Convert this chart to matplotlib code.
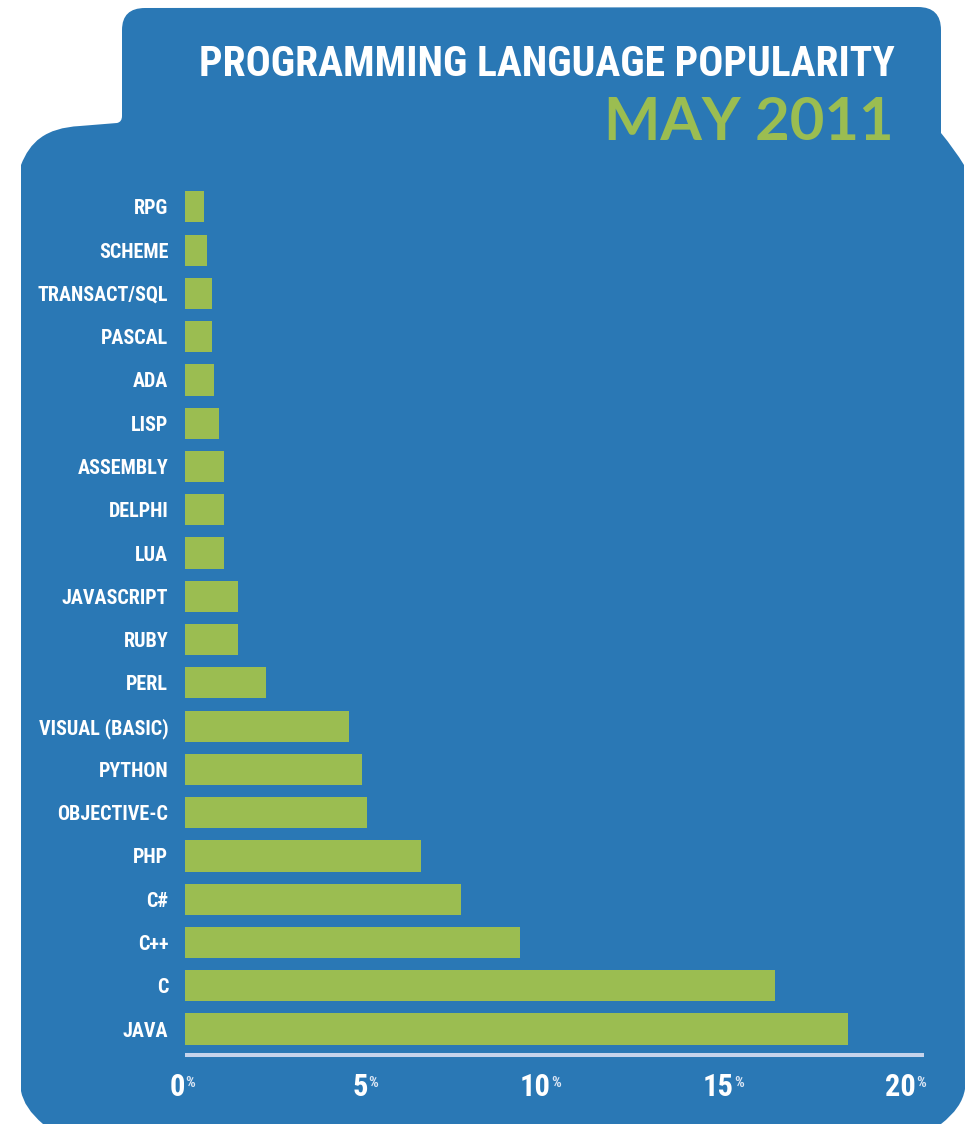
import matplotlib
matplotlib.use("Agg")
import matplotlib.pyplot as plt
import matplotlib.patches as patches
from matplotlib.path import Path
from matplotlib import font_manager as fm
import numpy as np

# data, bottom row first
languages = ["JAVA", "C", "C++", "C#", "PHP", "OBJECTIVE-C", "PYTHON",
             "VISUAL (BASIC)", "PERL", "RUBY", "JAVASCRIPT", "LUA", "DELPHI",
             "ASSEMBLY", "LISP", "ADA", "PASCAL", "TRANSACT/SQL", "SCHEME", "RPG"]
share = [18.14, 16.14, 9.17, 7.55, 6.46, 4.98, 4.84,
         4.49, 2.22, 1.45, 1.45, 1.07, 1.07,
         1.07, 0.93, 0.79, 0.74, 0.74, 0.60, 0.52]
ticks = [0, 5, 10, 15, 20]
title = "PROGRAMMING LANGUAGE POPULARITY"
subtitle = "MAY 2011"

BLUE = "#2a78b5"
GREEN = "#9bbd51"
LINE = "#c6d4ec"

# pick a narrow face if one is installed
names = {f.name for f in fm.fontManager.ttflist}
cond = "DejaVu Sans"
stretch = "normal"
for n in ["Roboto Condensed", "Liberation Sans Narrow", "Open Sans Condensed", "Noto Sans Condensed"]:
    if n in names:
        cond = n
        break
else:
    if any(f.name == "DejaVu Sans" and "Condensed" in f.fname for f in fm.fontManager.ttflist):
        stretch = "condensed"

W, H = 968, 1124
fig = plt.figure(figsize=(W / 100, H / 100), dpi=100)
fig.patch.set_facecolor("white")

# background shape in pixel coords
bg = fig.add_axes([0, 0, 1, 1], zorder=0)
bg.set_xlim(0, W)
bg.set_ylim(H, 0)
bg.axis("off")
verts = [
    (21, 165),
    (30, 142), (45, 128), (80, 126),
    (117, 123),
    (122, 122), (122, 116),
    (122, 30),
    (122, 8), (145, 8),
    (918, 7),
    (941, 7), (941, 30),
    (941, 133),
    (955, 150), (964, 165),
    (965, 1089),
    (962, 1108), (941, 1124),
    (941, 1130),
    (43, 1130),
    (43, 1124),
    (24, 1108), (21, 1091),
    (21, 165),
]
codes = [Path.MOVETO,
         Path.CURVE4, Path.CURVE4, Path.CURVE4,
         Path.LINETO,
         Path.CURVE3, Path.CURVE3,
         Path.LINETO,
         Path.CURVE3, Path.CURVE3,
         Path.LINETO,
         Path.CURVE3, Path.CURVE3,
         Path.LINETO,
         Path.CURVE3, Path.CURVE3,
         Path.LINETO,
         Path.CURVE3, Path.CURVE3,
         Path.LINETO,
         Path.LINETO,
         Path.LINETO,
         Path.CURVE3, Path.CURVE3,
         Path.CLOSEPOLY]
bg.add_patch(patches.PathPatch(Path(verts, codes), facecolor=BLUE, edgecolor="none"))

bg.text(895, 64, title, color="white", fontsize=30, fontweight="bold",
        family=cond, fontstretch=stretch, ha="right", va="center")
bg.text(894, 123, subtitle, color=GREEN, fontsize=43, fontweight="bold",
        family="Lato", ha="right", va="center")

# bar chart
ax = fig.add_axes([185 / W, 69 / H, 739 / W, 875 / H], zorder=1)
ax.patch.set_alpha(0)
y = np.arange(len(languages))
ax.barh(y, share, height=0.72, color=GREEN, edgecolor="none")
ax.set_xlim(0, 20.22)
ax.set_ylim(-0.6, 19.62)
for s in ["top", "right", "left"]:
    ax.spines[s].set_visible(False)
ax.spines["bottom"].set_color(LINE)
ax.spines["bottom"].set_linewidth(2.9)
ax.spines["bottom"].set_capstyle("butt")
ax.set_yticks(y)
ax.set_yticklabels(languages, color="white", fontsize=14.5, fontweight="bold",
                   family=cond, fontstretch=stretch)
ax.tick_params(axis="y", length=0, pad=12)
ax.set_xticks([])

for t in ticks:
    ax.annotate(str(t), xy=(t, 0), xycoords=("data", "axes fraction"),
                xytext=(0, -23), textcoords="offset points", ha="right", va="center",
                color="white", fontsize=22, fontweight="bold", family=cond, fontstretch=stretch)
    ax.annotate("%", xy=(t, 0), xycoords=("data", "axes fraction"),
                xytext=(0.5, -20), textcoords="offset points", ha="left", va="center",
                color="#dce6f4", fontsize=11, fontweight="bold", family=cond, fontstretch=stretch)

fig.savefig("out.png", dpi=100, facecolor="white")
